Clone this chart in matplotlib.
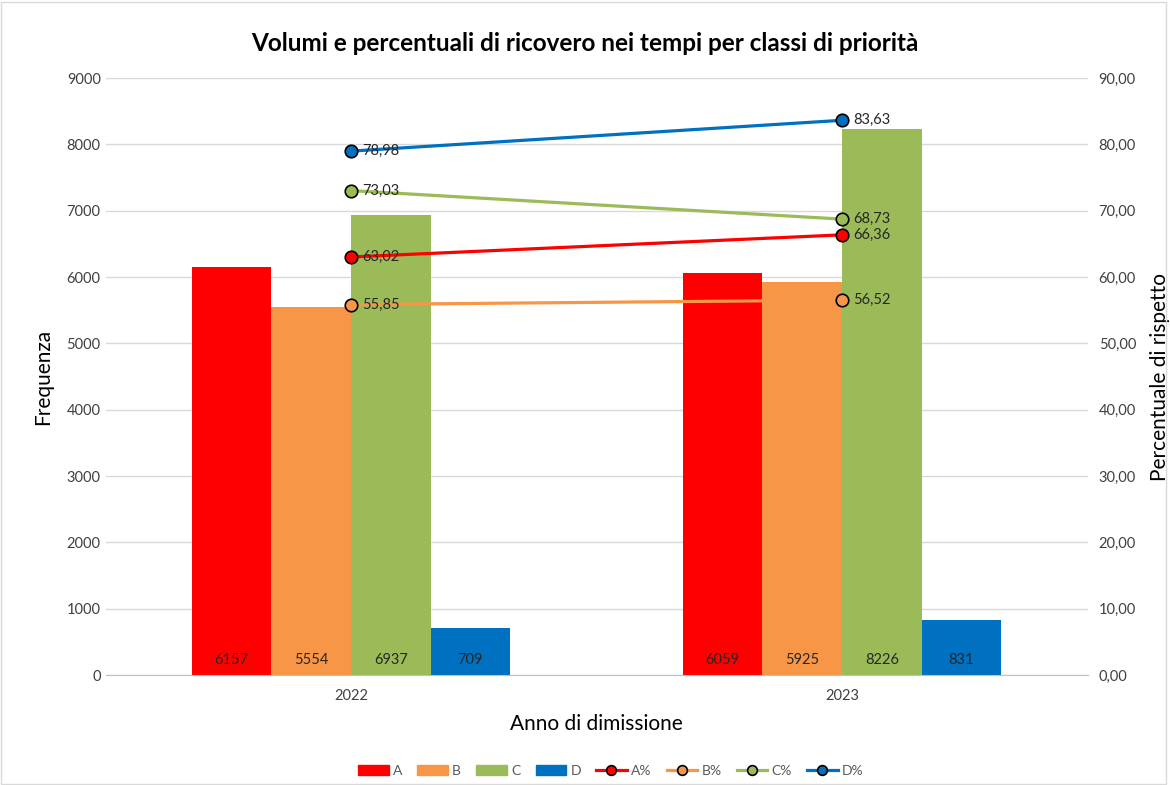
import matplotlib
matplotlib.use("Agg")
import matplotlib.pyplot as plt
import numpy as np
from matplotlib.patches import Rectangle
from matplotlib.lines import Line2D

plt.rcParams['font.family'] = ['Lato', 'DejaVu Sans']

years = ["2022", "2023"]
classes = ["A", "B", "C", "D"]
volumes = {
    "A": [6157, 6059],
    "B": [5554, 5925],
    "C": [6937, 8226],
    "D": [709, 831],
}
perc = {
    "A%": [63.02, 66.36],
    "B%": [55.85, 56.52],
    "C%": [73.03, 68.73],
    "D%": [78.98, 83.63],
}
colors = {"A": "#FF0000", "B": "#F79646", "C": "#9BBB59", "D": "#0070C0"}

fig = plt.figure(figsize=(11.7, 7.85), dpi=100)
fig.add_artist(Rectangle((0.001, 0.001), 0.996, 0.997, transform=fig.transFigure,
                         fill=False, edgecolor="#D9D9D9", linewidth=1))
ax = fig.add_axes([0.0902, 0.1401, 0.9295 - 0.0902, 0.9006 - 0.1401])
ax2 = ax.twinx()

x = np.arange(len(years))
w = 0.162
offsets = [-1.5, -0.5, 0.5, 1.5]
for c, off in zip(classes, offsets):
    ax.bar(x + off * w, volumes[c], width=w, color=colors[c], zorder=2, label=c)
    for xi, v in zip(x + off * w, volumes[c]):
        ax.text(xi, 230, str(v), ha="center", va="center", fontsize=10.5, color="#262626", zorder=3)

ax.set_xlim(-0.5, 1.5)
ax.set_ylim(0, 9000)
ax.set_yticks(np.arange(0, 9001, 1000))
ax.set_xticks(x)
ax.set_xticklabels(years)
ax.grid(axis="y", color="#D9D9D9", linewidth=1, zorder=0)
ax.set_axisbelow(True)
for s in ["top", "left", "right"]:
    ax.spines[s].set_visible(False)
ax.spines["bottom"].set_color("#BFBFBF")
ax.tick_params(axis="both", length=0, labelsize=10.5, labelcolor="#404040")
ax.tick_params(axis="x", pad=10)
ax.set_ylabel("Frequenza", fontsize=15, color="#000000", labelpad=10)
ax.set_xlabel("Anno di dimissione", fontsize=15, color="#000000", labelpad=8)

ax2.set_ylim(0, 90)
ax2.set_yticks(np.arange(0, 91, 10))
ax2.set_yticklabels([f"{v:.2f}".replace(".", ",") for v in np.arange(0, 91, 10)])
for s in ["top", "left", "right", "bottom"]:
    ax2.spines[s].set_visible(False)
ax2.tick_params(axis="y", length=0, labelsize=10.5, labelcolor="#404040", pad=8)
ax2.set_ylabel("Percentuale di rispetto", fontsize=15, color="#000000", labelpad=10)

for k, c in zip(perc.keys(), classes):
    ax2.plot(x, perc[k], color=colors[c], linewidth=2.3, marker="o", markersize=9,
             markerfacecolor=colors[c], markeredgecolor="black", markeredgewidth=1.2,
             zorder=4)
    for xi, v in zip(x, perc[k]):
        ax2.annotate(f"{v:.2f}".replace(".", ","), (xi, v), xytext=(8, 0),
                     textcoords="offset points", ha="left", va="center",
                     fontsize=10.5, color="#262626", zorder=5)

fig.text(0.5, 0.944, "Volumi e percentuali di ricovero nei tempi per classi di priorità",
         ha="center", va="center", fontsize=17.5, fontweight="bold", color="#000000")

handles = []
labels = []
for c in classes:
    handles.append(Rectangle((0, 0), 1, 1, color=colors[c]))
    labels.append(c)
for k, c in zip(perc.keys(), classes):
    handles.append(Line2D([0], [0], color=colors[c], linewidth=2.3, marker="o", markersize=7,
                          markerfacecolor=colors[c], markeredgecolor="black", markeredgewidth=1.2))
    labels.append(k)
fig.legend(handles, labels, loc="center", bbox_to_anchor=(0.522, 0.018), ncol=8, frameon=False,
           fontsize=10, handlelength=2.2, handletextpad=0.3, columnspacing=1.1,
           labelcolor="#595959")

fig.savefig("out.png", dpi=100)
